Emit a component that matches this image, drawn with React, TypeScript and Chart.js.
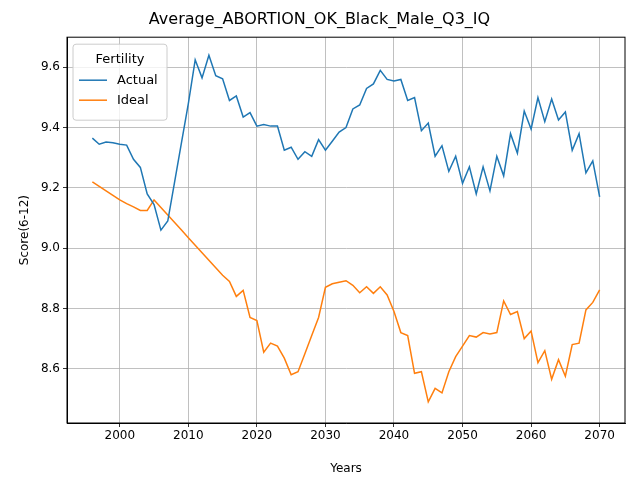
import React, { useEffect, useRef } from "react";
import { Chart, registerables } from "chart.js";
Chart.register(...registerables);

const years: number[] = Array.from({ length: 75 }, (_, i) => 1996 + i);
const actual = [9.365,9.345,9.352,9.35,9.345,9.342,9.295,9.268,9.18,9.145,9.06,9.09,9.22,9.35,9.48,9.625,9.565,9.64,9.572,9.562,9.49,9.505,9.435,9.45,9.405,9.41,9.405,9.405,9.325,9.335,9.295,9.32,9.305,9.36,9.325,9.355,9.385,9.4,9.462,9.475,9.53,9.545,9.59,9.56,9.555,9.56,9.49,9.5,9.39,9.415,9.305,9.34,9.255,9.305,9.215,9.27,9.18,9.27,9.19,9.305,9.24,9.38,9.315,9.455,9.395,9.5,9.42,9.495,9.425,9.452,9.325,9.38,9.25,9.29,9.17];
const ideal = [9.22,9.205,9.19,9.175,9.16,9.148,9.137,9.125,9.125,9.16,9.135,9.11,9.085,9.06,9.035,9.01,8.985,8.96,8.935,8.91,8.89,8.84,8.86,8.77,8.76,8.655,8.685,8.675,8.635,8.58,8.59,8.65,8.71,8.77,8.87,8.882,8.887,8.892,8.877,8.852,8.872,8.85,8.872,8.845,8.79,8.72,8.71,8.585,8.59,8.49,8.535,8.52,8.59,8.64,8.675,8.71,8.705,8.72,8.715,8.72,8.825,8.78,8.79,8.7,8.725,8.62,8.66,8.565,8.63,8.575,8.68,8.685,8.795,8.82,8.862,8.865];
const xTicks = [2000, 2010, 2020, 2030, 2040, 2050, 2060, 2070];
const yTicks = [8.6, 8.8, 9.0, 9.2, 9.4, 9.6];
const FONT = "'DejaVu Sans', sans-serif";

export default function App() {
  const ref = useRef<HTMLCanvasElement>(null);
  useEffect(() => {
    const chart = new Chart(ref.current!, {
      type: "line",
      data: {
        datasets: [
          { label: "Actual", data: years.map((x, i) => ({ x, y: actual[i] })), borderColor: "#1f77b4", borderWidth: 1.5, pointRadius: 0, tension: 0 },
          { label: "Ideal", data: years.map((x, i) => ({ x, y: ideal[i] })), borderColor: "#ff7f0e", borderWidth: 1.5, pointRadius: 0, tension: 0 },
        ],
      },
      options: {
        animation: false,
        responsive: false,
        layout: { padding: { left: 14, right: 15, top: 0, bottom: 0 } },
        plugins: {
          legend: { display: false },
          tooltip: { enabled: false },
          title: { display: true, text: "Average_ABORTION_OK_Black_Male_Q3_IQ", color: "#000", font: { family: FONT, size: 16, weight: "normal" }, padding: { top: 10, bottom: 8 } },
        },
        scales: {
          x: {
            type: "linear", min: 1992.3, max: 2073.7,
            afterBuildTicks: (s: any) => { s.ticks = xTicks.map((v) => ({ value: v })); },
            afterFit: (s: any) => { s.height = 57; },
            ticks: { color: "#000", font: { family: FONT, size: 12 }, maxRotation: 0, padding: 2, callback: (v: any) => String(v) },
            grid: { color: "#b0b0b0", lineWidth: 0.8, tickLength: 4, tickColor: "#000" },
            border: { color: "#000" },
            title: { display: true, text: "Years", color: "#000", font: { family: FONT, size: 12 }, padding: { top: 2 } },
          },
          y: {
            min: 8.42, max: 9.7,
            afterBuildTicks: (s: any) => { s.ticks = yTicks.map((v) => ({ value: v })); },
            afterFit: (s: any) => { s.width = 53; },
            ticks: { color: "#000", font: { family: FONT, size: 12 }, padding: 3, callback: (v: any) => Number(v).toFixed(1) },
            grid: { color: "#b0b0b0", lineWidth: 0.8, tickLength: 4, tickColor: "#000" },
            border: { color: "#000" },
            title: { display: true, text: "Score(6-12)", color: "#000", font: { family: FONT, size: 12 }, padding: { bottom: 2 } },
          },
        },
      },
      plugins: [
        {
          id: "boxlegend",
          afterDraw(c: any) {
            const ctx = c.ctx, a = c.chartArea;
            ctx.save();
            ctx.strokeStyle = "#000"; ctx.lineWidth = 1;
            ctx.strokeRect(a.left, a.top, a.right - a.left, a.bottom - a.top);
            const lx = a.left + 6, ly = a.top + 7, w = 94, h = 76;
            ctx.fillStyle = "rgba(255,255,255,0.8)";
            ctx.strokeStyle = "#cccccc";
            ctx.beginPath(); (ctx as any).roundRect(lx, ly, w, h, 3); ctx.fill(); ctx.stroke();
            ctx.fillStyle = "#000"; ctx.font = `13px ${FONT}`; ctx.textBaseline = "middle";
            ctx.textAlign = "center"; ctx.fillText("Fertility", lx + w / 2, ly + 15);
            ctx.textAlign = "left";
            const items = [["Actual", "#1f77b4"], ["Ideal", "#ff7f0e"]];
            items.forEach(([t, col], i) => {
              const y = ly + 36 + i * 20;
              ctx.strokeStyle = col; ctx.lineWidth = 1.5;
              ctx.beginPath(); ctx.moveTo(lx + 6, y); ctx.lineTo(lx + 34, y); ctx.stroke();
              ctx.fillText(t, lx + 44, y);
            });
            ctx.restore();
          },
        },
      ],
    } as any);
    return () => chart.destroy();
  }, []);
  return (
    <div style={{ position: "absolute", left: 0, top: 0, width: 640, height: 480, background: "#fff" }}>
      <canvas ref={ref} width={640} height={480} />
    </div>
  );
}
